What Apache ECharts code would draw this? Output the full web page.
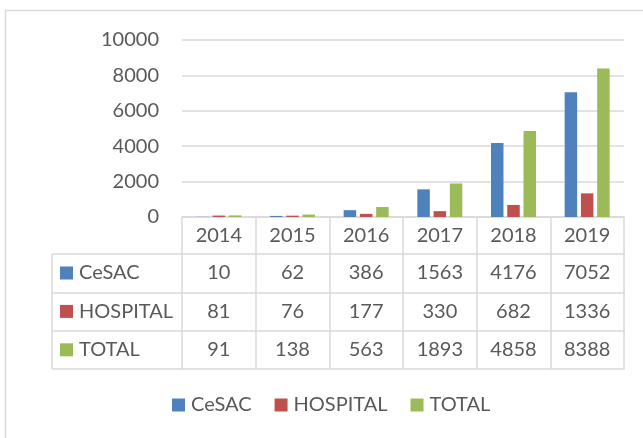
<!DOCTYPE html>
<html>
<head>
<meta charset="utf-8">
<script src="https://cdn.jsdelivr.net/npm/echarts@6/dist/echarts.min.js"></script>
<style>
  html, body { margin: 0; padding: 0; background: #fff; }
  #chart { width: 643px; height: 438px; }
</style>
</head>
<body>
<div id="chart"></div>
<script>
var years = ['2014', '2015', '2016', '2017', '2018', '2019'];
var cesac = [10, 62, 386, 1563, 4176, 7052];
var hospital = [81, 76, 177, 330, 682, 1336];
var total = [91, 138, 563, 1893, 4858, 8388];
var seriesNames = ['CeSAC', 'HOSPITAL', 'TOTAL'];
var yTicks = [0, 2000, 4000, 6000, 8000, 10000];

var colors = ['#4F81BD', '#C0504D', '#9BBB59'];
var txt = '#595959';
var line = '#d9d9d9';
var font = 'Lato';
var rows = [cesac, hospital, total];
var rowOffsets = [37, 76, 114, 152];

var myChart = echarts.init(document.getElementById('chart'));

// table rows are extra x axes under the plot
var xAxes = [{
    type: 'category',
    data: years,
    position: 'bottom',
    axisLine: { lineStyle: { color: line, width: 1.5 } },
    axisTick: { show: true, length: 152, interval: 0, lineStyle: { color: line, width: 1.5 } },
    axisLabel: { color: txt, fontFamily: font, fontSize: 20, margin: 9, interval: 0 },
    splitLine: { show: false }
}];
rowOffsets.forEach(function (off, r) {
    xAxes.push({
        type: 'category',
        data: years,
        position: 'bottom',
        offset: off,
        axisLine: { lineStyle: { color: line, width: 1.5 } },
        axisTick: { show: false },
        axisLabel: {
            show: r < 3,
            interval: 0,
            color: txt, fontFamily: font, fontSize: 20, margin: 9,
            formatter: function (v, i) { return r < 3 ? String(rows[r][i]) : ''; }
        },
        splitLine: { show: false }
    });
});

var series = seriesNames.map(function (name, k) {
    return {
        name: name,
        type: 'bar',
        xAxisIndex: 0,
        data: rows[k],
        barWidth: 12.5,
        barGap: '30%',
        itemStyle: { color: colors[k] }
    };
});

var legendCommon = {
    icon: 'rect',
    itemWidth: 13,
    itemHeight: 13,
    padding: 0,
    selectedMode: false,
    textStyle: { color: txt, fontFamily: font, fontSize: 20, padding: [0, 0, 0, 1] },
    data: seriesNames
};

myChart.setOption({
    animation: false,
    color: colors,
    grid: { left: 182, right: 19, top: 40, bottom: 221, containLabel: false },
    legend: [
        Object.assign({}, legendCommon, { orient: 'horizontal', left: 172, top: 395, itemGap: 23 }),
        Object.assign({}, legendCommon, { orient: 'vertical', left: 60, top: 263, itemGap: 18.4 })
    ],
    xAxis: xAxes,
    yAxis: {
        type: 'value',
        min: yTicks[0],
        max: yTicks[yTicks.length - 1],
        interval: 2000,
        axisLine: { show: false },
        axisTick: { show: false },
        axisLabel: {
            color: txt, fontFamily: font, fontSize: 20, margin: 23,
            formatter: function (v) { return String(v); }
        },
        splitLine: { lineStyle: { color: line, width: 1.5 } }
    },
    graphic: [
        // outer chart border
        { type: 'rect', shape: { x: 5.5, y: 10.5, width: 700, height: 500 },
          style: { fill: 'none', stroke: line, lineWidth: 1.5 }, silent: true },
        // left column of the data table
        { type: 'line', shape: { x1: 52, y1: 217 + 37, x2: 52, y2: 217 + 152 }, style: { stroke: line, lineWidth: 1.5 } },
        { type: 'line', shape: { x1: 52, y1: 217 + 37, x2: 182, y2: 217 + 37 }, style: { stroke: line, lineWidth: 1.5 } },
        { type: 'line', shape: { x1: 52, y1: 217 + 76, x2: 182, y2: 217 + 76 }, style: { stroke: line, lineWidth: 1.5 } },
        { type: 'line', shape: { x1: 52, y1: 217 + 114, x2: 182, y2: 217 + 114 }, style: { stroke: line, lineWidth: 1.5 } },
        { type: 'line', shape: { x1: 52, y1: 217 + 152, x2: 182, y2: 217 + 152 }, style: { stroke: line, lineWidth: 1.5 } }
    ],
    series: series
});
</script>
</body>
</html>
